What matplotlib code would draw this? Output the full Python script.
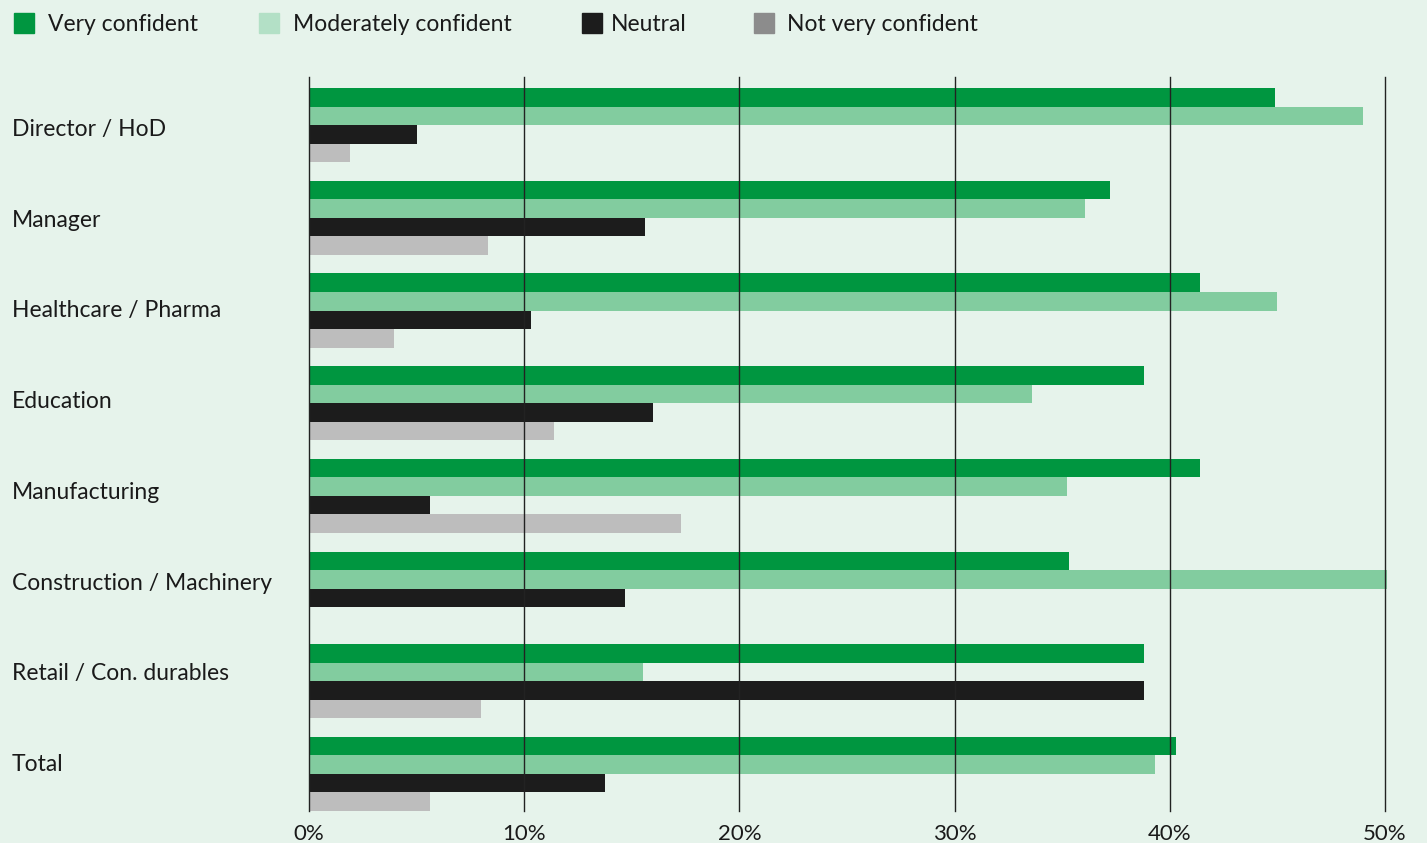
import numpy as np
import matplotlib.pyplot as plt
from matplotlib.patches import Rectangle
from matplotlib.transforms import blended_transform_factory

plt.rcParams['font.family'] = ['Lato', 'DejaVu Sans']

categories = ['Director / HoD', 'Manager', 'Healthcare / Pharma', 'Education',
              'Manufacturing', 'Construction / Machinery', 'Retail / Con. durables', 'Total']
series_names = ['Very confident', 'Moderately confident', 'Neutral', 'Not very confident']
very_confident = [44.9, 37.2, 41.4, 38.8, 41.4, 35.3, 38.8, 40.3]
moderately_confident = [49.0, 36.05, 45.0, 33.6, 35.2, 50.1, 15.5, 39.3]
neutral = [5.0, 15.6, 10.3, 16.0, 5.6, 14.7, 38.8, 13.75]
not_very_confident = [1.9, 8.3, 3.95, 11.4, 17.3, 0.0, 8.0, 5.6]
ticks = [0, 10, 20, 30, 40, 50]

bar_colors = ['#009640', '#82cc9f', '#1c1c1c', '#bdbdbd']
legend_colors = ['#009640', '#b3e0c6', '#1c1c1c', '#8c8c8c']
bg = '#e6f3eb'
txt = '#1a1a1a'

W, H = 1427, 843
fig = plt.figure(figsize=(W / 100, H / 100), dpi=100, facecolor=bg)
ax = fig.add_axes([309 / W, 1 - 811 / H, (1385 - 309) / W, (811 - 77) / H])
ax.set_facecolor(bg)

y = np.arange(len(categories))
h = 0.2
data = [very_confident, moderately_confident, neutral, not_very_confident]
for k, vals in enumerate(data):
    ax.barh(y - 0.3 + k * h, vals, height=h, color=bar_colors[k], zorder=2, clip_on=False)

ax.set_xlim(0, 50)
ax.set_ylim(7.4, -0.52)
for t in ticks:
    ax.axvline(t, color='#222222', lw=1, zorder=3, clip_on=False)
for s in ax.spines.values():
    s.set_visible(False)
ax.set_yticks([])
ax.set_xticks(ticks)
ax.set_xticklabels([f'{t}%' for t in ticks], fontsize=16, color=txt)
ax.tick_params(axis='x', length=0, pad=9)

# category labels, baselines a bit tighter than the bar groups
for i, c in enumerate(categories):
    base_px = 136 + i * 90.7
    fig.text(12 / W, 1 - base_px / H, c, ha='left', va='baseline',
             fontsize=16.5, color=txt)

# legend
leg_x = [14, 259, 582, 754]
leg_tx = [48, 293, 611, 787]
for k, name in enumerate(series_names):
    fig.patches.append(Rectangle((leg_x[k] / W, 1 - 33 / H), 20 / W, 20 / H,
                                 transform=fig.transFigure, color=legend_colors[k]))
    fig.text(leg_tx[k] / W, 1 - 31 / H, name, ha='left', va='baseline',
             fontsize=16.5, color=txt)

fig.savefig('out.png', dpi=100, facecolor=bg)
